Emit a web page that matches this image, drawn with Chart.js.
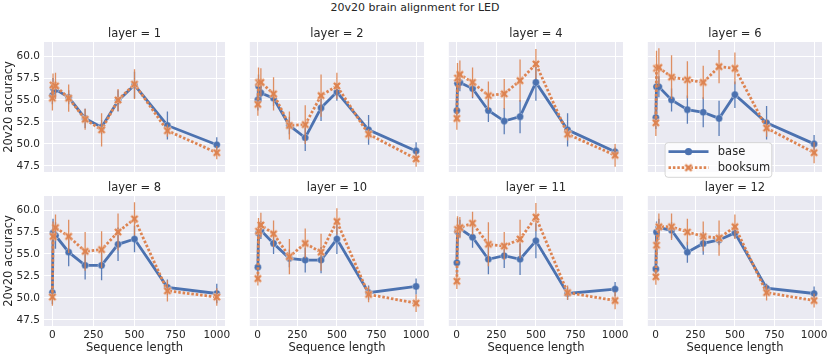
<!DOCTYPE html>
<html>
<head>
<meta charset="utf-8">
<script src="https://cdn.jsdelivr.net/npm/chart.js@4.4.0/dist/chart.umd.min.js"></script>
<style>
  body { margin: 0; background: #fff; }
  #page { position: relative; width: 830px; height: 358px; overflow: hidden; font-family: "DejaVu Sans", sans-serif; }
  #suptitle { position: absolute; left: 0; top: 0; width: 830px; text-align: center; font-size: 11px; line-height: 16px; color: #262626; }
  .panel { position: absolute; }
</style>
</head>
<body>
<div id="page">
  <div id="suptitle">20v20 brain alignment for LED</div>
</div>
<script>
// data
const seqLengths = [1, 5, 20, 100, 200, 300, 400, 500, 700, 1000];
const layers = [1, 2, 4, 6, 8, 10, 11, 12];
const xTicks = [0, 250, 500, 750, 1000];
const yTicks = [47.5, 50, 52.5, 55, 57.5, 60];
const seriesNames = ['base', 'booksum'];

// one row per layer
const baseAcc = [
  [55.5, 56.4, 56.2, 55.3, 52.9, 51.9, 54.9, 56.7, 52.1, 49.9],
  [55.0, 56.6, 55.8, 55.2, 52.1, 50.7, 54.1, 55.9, 51.6, 49.2],
  [53.8, 56.9, 57.0, 56.3, 53.8, 52.6, 53.1, 57.0, 51.6, 49.1],
  [53.0, 56.5, 56.5, 55.0, 53.9, 53.6, 52.9, 55.6, 52.4, 50.0],
  [50.6, 57.4, 57.1, 55.2, 53.7, 53.7, 56.1, 56.7, 51.2, 50.5],
  [53.5, 57.4, 57.7, 56.2, 54.5, 54.3, 54.3, 56.7, 50.6, 51.3],
  [54.0, 57.6, 57.9, 56.9, 54.4, 54.8, 54.4, 56.5, 50.5, 51.0],
  [53.3, 57.5, 58.0, 57.7, 55.2, 56.2, 56.6, 57.4, 51.1, 50.5]
];
const booksumAcc = [
  [55.2, 56.7, 56.6, 55.2, 52.8, 51.6, 55.0, 56.8, 51.5, 49.0],
  [54.5, 57.0, 57.0, 55.7, 52.1, 52.2, 55.5, 56.6, 51.1, 48.3],
  [52.9, 57.5, 57.9, 57.0, 55.5, 55.7, 57.2, 59.1, 51.1, 48.7],
  [52.4, 58.6, 58.7, 57.6, 57.3, 57.0, 58.8, 58.6, 51.8, 49.0],
  [50.1, 57.0, 58.0, 57.0, 55.3, 55.5, 57.5, 59.0, 50.8, 50.1],
  [52.2, 57.6, 58.3, 57.3, 54.7, 56.2, 55.2, 58.7, 50.4, 49.4],
  [51.9, 57.8, 58.0, 58.5, 56.1, 55.9, 56.7, 59.2, 50.6, 49.7],
  [52.4, 56.0, 58.1, 58.1, 57.5, 57.0, 56.8, 58.1, 50.6, 49.7]
];
// half length of the error bars
const baseErr = [
  [1.0, 1.1, 0.9, 0.8, 1.1, 0.8, 1.2, 1.5, 1.6, 0.85],
  [1.2, 1.3, 1.0, 0.9, 1.0, 1.5, 1.5, 1.0, 1.7, 1.0],
  [1.2, 1.3, 1.0, 1.1, 1.3, 1.5, 1.9, 2.1, 1.9, 0.5],
  [1.3, 1.4, 1.2, 1.3, 1.6, 1.7, 2.0, 1.5, 1.9, 1.0],
  [1.3, 1.6, 1.5, 1.6, 1.6, 1.7, 1.9, 1.5, 0.9, 1.1],
  [1.3, 1.2, 1.0, 1.2, 1.0, 1.4, 1.5, 1.7, 0.8, 0.9],
  [1.3, 1.5, 1.0, 1.2, 1.7, 1.4, 1.8, 2.0, 0.7, 0.8],
  [0.9, 1.2, 1.0, 0.9, 1.2, 1.3, 0.6, 0.6, 0.5, 0.8]
];
const booksumErr = [
  [1.4, 1.3, 1.5, 1.55, 1.2, 1.9, 1.25, 1.7, 0.7, 0.75],
  [1.3, 1.7, 1.6, 1.9, 1.6, 2.2, 2.4, 1.5, 0.6, 0.9],
  [1.3, 1.7, 1.6, 1.7, 1.6, 1.7, 2.4, 1.7, 0.7, 1.3],
  [1.5, 2.0, 2.2, 2.5, 2.1, 1.9, 1.9, 1.8, 1.0, 1.2],
  [1.0, 1.7, 1.5, 1.9, 2.2, 2.1, 2.1, 1.9, 1.2, 1.0],
  [0.8, 1.5, 1.4, 1.5, 2.0, 1.7, 2.1, 1.5, 0.9, 1.0],
  [0.9, 1.5, 1.2, 1.3, 2.5, 1.6, 2.2, 1.6, 0.8, 1.0],
  [0.9, 1.2, 1.5, 1.5, 1.5, 1.7, 2.0, 1.4, 0.9, 0.8]
];

const BLUE = '#4C72B0';
const ORANGE = '#DD8452';
const TEXT = '#262626';
const FONT = '"DejaVu Sans", sans-serif';

Chart.defaults.font.family = FONT;
Chart.defaults.color = TEXT;

// layout of the facet grid
const PANEL_W = 181, PANEL_H = 130;
const panelLefts = [44, 243, 442, 641];
const panelTops = [42, 196];

// filled "X" marker like matplotlib's
function makeXMarker(color) {
  const c = document.createElement('canvas');
  c.width = 12; c.height = 12;
  const g = c.getContext('2d');
  const a = 1.4, r = 4.5;
  const pts = [[a, r], [a, a], [r, a], [r, -a], [a, -a], [a, -r], [-a, -r], [-a, -a], [-r, -a], [-r, a], [-a, a], [-a, r]];
  const k = Math.SQRT1_2;
  g.beginPath();
  pts.forEach(([x, y], i) => {
    const px = 6 + (x - y) * k, py = 6 + (x + y) * k;
    if (i === 0) g.moveTo(px, py); else g.lineTo(px, py);
  });
  g.closePath();
  g.fillStyle = color;
  g.fill();
  g.strokeStyle = 'rgba(255,255,255,0.8)';
  g.lineWidth = 0.6;
  g.stroke();
  return c;
}
const xMarker = makeXMarker(ORANGE);

const bgPlugin = {
  id: 'panelBg',
  beforeDraw(chart) {
    const { ctx, chartArea: a } = chart;
    ctx.save();
    ctx.fillStyle = '#EAEAF2';
    ctx.fillRect(a.left, a.top, a.right - a.left, a.bottom - a.top);
    ctx.restore();
  }
};

const errorBarsPlugin = {
  id: 'errorBars',
  afterDatasetDraw(chart, args) {
    const ds = chart.data.datasets[args.index];
    if (!ds.errors) return;
    const { ctx, chartArea: a } = chart;
    const xs = chart.scales.x, ys = chart.scales.y;
    ctx.save();
    ctx.beginPath();
    ctx.rect(a.left, a.top, a.right - a.left, a.bottom - a.top);
    ctx.clip();
    ctx.strokeStyle = ds.borderColor;
    ctx.globalAlpha = 0.9;
    ctx.lineWidth = 1.3;
    ctx.beginPath();
    ds.data.forEach((p, i) => {
      const px = xs.getPixelForValue(p.x);
      ctx.moveTo(px, ys.getPixelForValue(p.y - ds.errors[i]));
      ctx.lineTo(px, ys.getPixelForValue(p.y + ds.errors[i]));
    });
    ctx.stroke();
    ctx.restore();
  }
};

const panelTitlePlugin = {
  id: 'panelTitle',
  afterDraw(chart, args, opts) {
    const { ctx, chartArea: a } = chart;
    ctx.save();
    ctx.font = '11.5px ' + FONT;
    ctx.fillStyle = TEXT;
    ctx.textAlign = 'center';
    ctx.textBaseline = 'middle';
    ctx.fillText(opts.text, (a.left + a.right) / 2, a.top - 7.5);
    ctx.restore();
  }
};

const legendPlugin = {
  id: 'boxLegend',
  afterDraw(chart, args, opts) {
    if (!opts.show) return;
    const { ctx, chartArea: a } = chart;
    const x0 = a.left + 17.3, y0 = a.top + 100.7, w = 106.7, h = 34.6;
    ctx.save();
    ctx.beginPath();
    ctx.roundRect(x0, y0, w, h, 3);
    ctx.fillStyle = 'rgba(255,255,255,0.8)';
    ctx.fill();
    ctx.strokeStyle = 'rgba(204,204,204,0.8)';
    ctx.lineWidth = 1;
    ctx.stroke();
    const rows = [a.top + 109.7, a.top + 125.7];
    chart.data.datasets.forEach((ds, i) => {
      const y = rows[i];
      ctx.beginPath();
      ctx.setLineDash(ds.borderDash || []);
      ctx.strokeStyle = ds.borderColor;
      ctx.lineWidth = ds.borderWidth;
      ctx.moveTo(a.left + 20.7, y);
      ctx.lineTo(a.left + 60.7, y);
      ctx.stroke();
      ctx.setLineDash([]);
      const mx = a.left + 40.7;
      if (ds.pointStyle === 'circle') {
        ctx.beginPath();
        ctx.arc(mx, y, ds.pointRadius, 0, Math.PI * 2);
        ctx.fillStyle = ds.pointBackgroundColor;
        ctx.fill();
      } else {
        ctx.drawImage(ds.pointStyle, mx - 6, y - 6);
      }
      ctx.font = '11.5px ' + FONT;
      ctx.fillStyle = TEXT;
      ctx.textAlign = 'left';
      ctx.textBaseline = 'middle';
      ctx.fillText(ds.label, a.left + 70, y);
    });
    ctx.restore();
  }
};

const page = document.getElementById('page');

layers.forEach((layer, i) => {
  const col = i % 4, row = Math.floor(i / 4);
  const yAxisW = col === 0 ? 44 : 0;
  const xAxisH = row === 1 ? 32 : 0;
  const padT = 20, padR = 8, padB = row === 0 ? 8 : 0;

  const box = document.createElement('div');
  box.className = 'panel';
  const w = yAxisW + PANEL_W + padR;
  const h = padT + PANEL_H + padB + xAxisH;
  box.style.left = (panelLefts[col] - yAxisW) + 'px';
  box.style.top = (panelTops[row] - padT) + 'px';
  box.style.width = w + 'px';
  box.style.height = h + 'px';
  const canvas = document.createElement('canvas');
  canvas.width = w; canvas.height = h;
  canvas.style.width = w + 'px'; canvas.style.height = h + 'px';
  box.appendChild(canvas);
  page.appendChild(box);

  const toPts = vals => seqLengths.map((x, k) => ({ x: x, y: vals[k] }));

  new Chart(canvas.getContext('2d'), {
    type: 'line',
    data: {
      datasets: [
        {
          label: seriesNames[0],
          data: toPts(baseAcc[i]),
          errors: baseErr[i],
          borderColor: BLUE,
          backgroundColor: BLUE,
          borderWidth: 2.8,
          pointStyle: 'circle',
          pointRadius: 3.6,
          pointBackgroundColor: BLUE,
          pointBorderColor: 'rgba(255,255,255,0.7)',
          pointBorderWidth: 0.5,
          tension: 0,
          order: 2
        },
        {
          label: seriesNames[1],
          data: toPts(booksumAcc[i]),
          errors: booksumErr[i],
          borderColor: ORANGE,
          backgroundColor: ORANGE,
          borderWidth: 2.8,
          borderDash: [2.5, 1.9],
          pointStyle: xMarker,
          pointRadius: 4,
          tension: 0,
          order: 1
        }
      ]
    },
    options: {
      responsive: false,
      animation: false,
      devicePixelRatio: 1,
      layout: { padding: { left: 0, top: padT, right: padR, bottom: padB } },
      scales: {
        x: {
          type: 'linear',
          bounds: 'data',
          min: -49.95,
          max: 1049.95,
          afterBuildTicks: s => { s.ticks = xTicks.map(v => ({ value: v })); },
          afterFit: s => { s.height = xAxisH; s.paddingLeft = 0; s.paddingRight = 0; },
          grid: { color: '#ffffff', lineWidth: 1, drawTicks: false },
          border: { display: false },
          ticks: { display: row === 1, padding: 3, color: TEXT, font: { size: 10.5 }, maxRotation: 0, callback: v => String(v) },
          title: { display: row === 1, text: 'Sequence length', color: TEXT, font: { size: 11.5 }, padding: { top: 0, bottom: 3 } }
        },
        y: {
          type: 'linear',
          bounds: 'data',
          min: 46.8,
          max: 61.6,
          afterBuildTicks: s => { s.ticks = yTicks.map(v => ({ value: v })); },
          afterFit: s => { s.width = yAxisW; s.paddingTop = 0; s.paddingBottom = 0; },
          grid: { color: '#ffffff', lineWidth: 1, drawTicks: false },
          border: { display: false },
          ticks: { display: col === 0, padding: 4, color: TEXT, font: { size: 10.5 }, callback: v => v.toFixed(1) },
          title: { display: col === 0, text: '20v20 accuracy', color: TEXT, font: { size: 11.5 }, padding: { top: 2, bottom: 0 } }
        }
      },
      plugins: {
        legend: { display: false },
        tooltip: { enabled: false },
        panelTitle: { text: 'layer = ' + layer },
        boxLegend: { show: layer === 6 }
      }
    },
    plugins: [bgPlugin, errorBarsPlugin, panelTitlePlugin, legendPlugin]
  });
});
</script>
</body>
</html>
